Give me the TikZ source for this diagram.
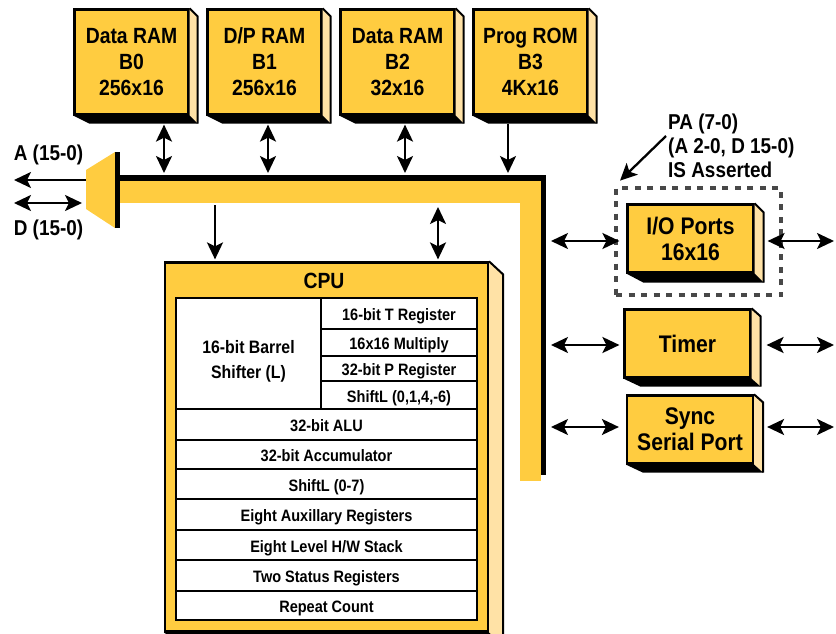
\documentclass[tikz,border=0pt]{standalone}
\usepackage{fontspec}
\usepackage{xcolor}
\usetikzlibrary{arrows.meta}

\setmainfont{Liberation Sans}[FakeStretch=0.88]

\definecolor{chipyellow}{HTML}{FFCC40}
\definecolor{chipside}{HTML}{FFE2A6}
\definecolor{framegray}{HTML}{484848}

\tikzset{
	chip/.style={draw, fill=chipyellow, line width=2.2pt, inner sep=0pt, align=center, font=\fontsize{22}{26}\selectfont\bfseries},
	portchip/.style={chip, minimum width=126pt, minimum height=68pt, font=\fontsize{24}{26}\selectfont\bfseries},
	ramchip/.style={chip, minimum width=114pt, minimum height=105pt},
	cell/.style={draw, fill=white, line width=1.8pt, inner sep=0pt, align=center, text height=14pt, text depth=0pt, font=\fontsize{16.5}{25}\selectfont\bfseries},
	rowcell/.style={cell, minimum width=301pt},
	tag/.style={inner sep=0pt, align=left, font=\fontsize{21.5}{24}\selectfont\bfseries},
	oneway/.style={-{Stealth[length=17pt, width=16pt, inset=4pt]}, line width=2.3pt},
	twoway/.style={{Stealth[length=17pt, width=16pt, inset=4pt]}-{Stealth[length=17pt, width=16pt, inset=4pt]}, line width=2.3pt},
}

% Side face and shadow of a chip, #2 and #3 give the depth
\newcommand{\chipfaces}[3]{
	\fill[chipside] (#1.north east) -- ++(#2, #3) -- ([shift={(#2, #3)}]#1.south east) -- (#1.south east) -- cycle;
	\draw[line width=2pt] (#1.north east) -- ++(#2, #3) -- ([shift={(#2, #3)}]#1.south east);
	\fill (#1.south west) -- ++(#2+8, #3) -- ([shift={(#2, #3)}]#1.south east) -- (#1.south east) -- cycle;
}

\begin{document}
\begin{tikzpicture}[x=1pt, y=-1pt]
	\useasboundingbox (0, 0) rectangle (836, 634);

	% Bus and multiplexer
	\fill[chipyellow] (120, 181) rectangle (541, 203);
	\fill[chipyellow] (520, 203) rectangle (541, 481);
	\fill (120, 175) rectangle (546, 181);
	\fill (541, 181) rectangle (546, 475);
	\fill[chipyellow] (86, 170) -- (115, 152) -- (115, 228) -- (86, 209) -- cycle;
	\fill (115, 152) rectangle (120, 228);

	% Memory blocks
	\node[ramchip] (B0) at (131.5, 62) {Data RAM\\B0\\256x16};
	\node[ramchip] (B1) at (264.5, 62) {D/P RAM\\B1\\256x16};
	\node[ramchip] (B2) at (397.5, 62) {Data RAM\\B2\\32x16};
	\node[ramchip] (B3) at (530.5, 62) {Prog ROM\\B3\\4Kx16};
	\chipfaces{B0}{8}{8}
	\chipfaces{B1}{8}{8}
	\chipfaces{B2}{8}{8}
	\chipfaces{B3}{8}{8}

	% Peripherals
	\node[draw=framegray, line width=3.5pt, dash pattern=on 6pt off 6.5pt, minimum width=165pt, minimum height=107pt, inner sep=0pt] (IOframe) at (698.5, 241.5) {};
	\node[portchip] (IO) at (690.5, 238.5) {I/O Ports\\16x16};
	\node[portchip] (Timer) at (687.5, 343.5) {\raisebox{-2pt}{Timer}};
	\node[portchip] (Sync) at (690, 429.5) {Sync\\Serial Port};
	\chipfaces{IO}{9}{9}
	\chipfaces{Timer}{9}{8}
	\chipfaces{Sync}{9}{8}

	% CPU with its registers
	\node[chip, minimum width=323pt, minimum height=369pt] (CPU) at (326.5, 447) {};
	\chipfaces{CPU}{14}{13}
	\node[chip, draw=none, fill=none] (CPUname) at (324, 281) {CPU};
	\node[cell, minimum width=145pt, minimum height=111pt] (Barrel) at (248.5, 353.5) {};
	\node[inner sep=0pt, align=center, font=\fontsize{18}{25}\selectfont\bfseries] (BarrelName) at (248.5, 361) {16-bit Barrel\\Shifter (L)};
	\node[cell, minimum width=156pt, minimum height=31pt] (TReg) at (399, 313.5) {16-bit T Register};
	\node[cell, minimum width=156pt, minimum height=26.5pt] (Mult) at (399, 342.5) {16x16 Multiply};
	\node[cell, minimum width=156pt, minimum height=25.5pt] (PReg) at (399, 368.5) {32-bit P Register};
	\node[cell, minimum width=156pt, minimum height=28pt] (ShiftP) at (399, 395) {ShiftL (0,1,4,-6)};
	\node[rowcell, minimum height=31pt] (ALU) at (326.5, 424.5) {32-bit ALU};
	\node[rowcell, minimum height=29pt] (Acc) at (326.5, 454.5) {32-bit Accumulator};
	\node[rowcell, minimum height=30pt] (ShiftA) at (326.5, 484) {ShiftL (0-7)};
	\node[rowcell, minimum height=31pt] (Aux) at (326.5, 514.5) {Eight Auxillary Registers};
	\node[rowcell, minimum height=30pt] (Stack) at (326.5, 545) {Eight Level H/W Stack};
	\node[rowcell, minimum height=31pt] (Status) at (326.5, 575.5) {Two Status Registers};
	\node[rowcell, minimum height=29pt] (Repeat) at (326.5, 605.5) {Repeat Count};

	% Free ends of the connectors
	\coordinate (busB0) at (164, 173);
	\coordinate (busB1) at (268, 173);
	\coordinate (busB2) at (405, 173);
	\coordinate (busB3) at (508, 173);
	\coordinate (busCPUa) at (215, 205);
	\coordinate (busCPUd) at (438, 207);
	\coordinate (addrEnd) at (14, 180);
	\coordinate (addrMux) at (86, 180);
	\coordinate (dataEnd) at (14, 203);
	\coordinate (dataMux) at (82, 203);
	\coordinate (busIO) at (551, 241);
	\coordinate (busTimer) at (551, 345);
	\coordinate (busSync) at (551, 427);
	\coordinate (outIO) at (834, 241);
	\coordinate (outTimer) at (834, 345);
	\coordinate (outSync) at (834, 427);
	\coordinate (tagFoot) at (666, 136);

	% Draw the connectors
	\draw[twoway, shorten <=9pt] (busB0 |- B0.south) -- (busB0);
	\draw[twoway, shorten <=9pt] (busB1 |- B1.south) -- (busB1);
	\draw[twoway, shorten <=9pt] (busB2 |- B2.south) -- (busB2);
	\draw[oneway, shorten <=8pt] (busB3 |- B3.south) -- (busB3);
	\draw[oneway, shorten >=2pt] (busCPUa) -- (busCPUa |- CPU.north);
	\draw[twoway, shorten >=2pt] (busCPUd) -- (busCPUd |- CPU.north);
	\draw[oneway] (addrMux) -- (addrEnd);
	\draw[twoway] (dataEnd) -- (dataMux);
	\draw[twoway, shorten >=7pt] (busIO) -- (busIO -| IO.west);
	\draw[twoway, shorten >=4pt] (busTimer) -- (busTimer -| Timer.west);
	\draw[twoway, shorten >=7pt] (busSync) -- (busSync -| Sync.west);
	\draw[twoway, shorten <=13pt] (outIO -| IO.east) -- (outIO);
	\draw[twoway, shorten <=15pt] (outTimer -| Timer.east) -- (outTimer);
	\draw[twoway, shorten <=13pt] (outSync -| Sync.east) -- (outSync);
	\draw[oneway, shorten >=8pt] (tagFoot) -- (IOframe.north west);

	% Outside labels
	\node[tag] (Addr) at (48.5, 155) {A (15-0)};
	\node[tag] (Data) at (48.5, 230) {D (15-0)};
	\node[tag, anchor=west] (PA) at (668, 146) {PA (7-0)\\(A 2-0, D 15-0)\\IS Asserted};
\end{tikzpicture}
\end{document}
